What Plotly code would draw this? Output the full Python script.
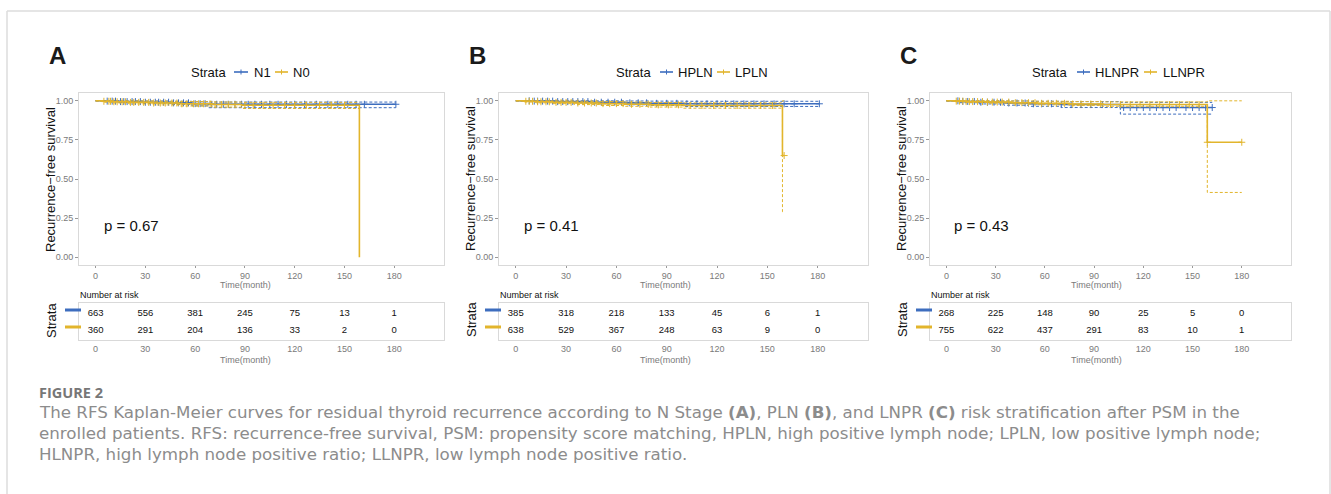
import numpy as np
import plotly.graph_objects as go

W, H = 1331, 494
BLUE = "#3D6DBE"
YELLOW = "#E2B52C"
FONT = "Liberation Sans, Arial, sans-serif"

# ---------------- data ----------------
panel_letters = ["A", "B", "C"]
strata_names = [["N1", "N0"], ["HPLN", "LPLN"], ["HLNPR", "LLNPR"]]
p_values = ["p = 0.67", "p = 0.41", "p = 0.43"]
risk_times = [0, 30, 60, 90, 120, 150, 180]

# Panel A
a_blue_t = [0, 6, 14, 28, 45, 58, 68]
a_blue_s = [1.0, 0.998, 0.995, 0.991, 0.987, 0.982, 0.978]
a_blue_lo = [1.0, 0.994, 0.989, 0.983, 0.977, 0.968, 0.956]
a_blue_hi = [1.0, 1.0, 1.0, 0.999, 0.997, 0.995, 0.992]
a_blue_end = 181
a_blue_cens = [7, 10, 12, 15, 17, 19, 22, 24, 27, 30, 33, 36, 38, 41, 44, 47, 50, 53, 56, 60,
               63, 66, 70, 73, 77, 80, 84, 88, 92, 96, 100, 105, 110, 115, 120, 126, 133, 140,
               146, 152, 157, 162, 181]
a_yel_t = [0, 4, 10, 20, 35, 50, 70, 88, 159]
a_yel_s = [1.0, 0.997, 0.994, 0.99, 0.986, 0.981, 0.976, 0.972, 0.0]
a_yel_ci_t = [0, 4, 10, 20, 35, 50, 70, 88]
a_yel_lo = [1.0, 0.991, 0.986, 0.98, 0.974, 0.967, 0.96, 0.951]
a_yel_hi = [1.0, 1.0, 1.0, 0.999, 0.997, 0.995, 0.992, 0.99]
a_yel_end = 159
a_yel_cens = [5, 8, 9, 11, 13, 16, 18, 21, 23, 26, 29, 32, 35, 39, 42, 46, 49, 52, 55, 59, 62,
              65, 69, 72, 76, 80, 84, 90, 95, 101, 107, 114, 120, 127, 135, 142, 150]
a_risk_blue = [663, 556, 381, 245, 75, 13, 1]
a_risk_yel = [360, 291, 204, 136, 33, 2, 0]

# Panel B
b_blue_t = [0, 10, 25, 45, 65, 80, 100]
b_blue_s = [1.0, 0.998, 0.995, 0.991, 0.987, 0.984, 0.981]
b_blue_lo = [1.0, 0.994, 0.989, 0.982, 0.975, 0.97, 0.964]
b_blue_hi = [1.0, 1.0, 1.0, 1.0, 0.999, 0.998, 0.997]
b_blue_end = 181
b_blue_cens = [8, 11, 13, 16, 19, 22, 25, 28, 31, 34, 37, 40, 43, 47, 51, 55, 59, 63, 68, 73,
               78, 84, 90, 96, 102, 108, 114, 120, 125, 130, 136, 142, 148, 154, 160, 166, 181]
b_yel_t = [0, 5, 12, 22, 35, 50, 65, 80, 100, 159]
b_yel_s = [1.0, 0.997, 0.994, 0.99, 0.986, 0.982, 0.978, 0.974, 0.97, 0.65]
b_yel_lo = [1.0, 0.992, 0.987, 0.982, 0.976, 0.97, 0.965, 0.96, 0.953, 0.29]
b_yel_hi = [1.0, 1.0, 1.0, 0.999, 0.997, 0.995, 0.992, 0.989, 0.987, 1.0]
b_yel_end = 160
b_yel_cens = [6, 8, 10, 13, 15, 18, 20, 24, 27, 30, 33, 37, 41, 45, 48, 52, 56, 60, 64, 69,
              74, 79, 85, 91, 97, 104, 111, 118, 125, 132, 139, 146, 153, 160]
b_risk_blue = [385, 318, 218, 133, 45, 6, 1]
b_risk_yel = [638, 529, 367, 248, 63, 9, 0]

# Panel C
c_blue_t = [0, 8, 20, 35, 50, 70, 106]
c_blue_s = [1.0, 0.996, 0.991, 0.986, 0.981, 0.976, 0.957]
c_blue_lo = [1.0, 0.988, 0.98, 0.972, 0.965, 0.957, 0.915]
c_blue_hi = [1.0, 1.0, 1.0, 0.999, 0.997, 0.995, 0.99]
c_blue_end = 162
c_blue_cens = [7, 10, 13, 17, 21, 25, 29, 33, 38, 43, 48, 53, 58, 64, 70, 76, 82, 88, 95, 108,
               112, 116, 120, 124, 128, 132, 136, 140, 146, 150, 154, 158, 162]
c_yel_t = [0, 5, 12, 25, 40, 55, 75, 95, 159]
c_yel_s = [1.0, 0.998, 0.995, 0.992, 0.988, 0.984, 0.98, 0.976, 0.735]
c_yel_lo = [1.0, 0.994, 0.99, 0.985, 0.98, 0.975, 0.97, 0.965, 0.414]
c_yel_hi = [1.0, 1.0, 1.0, 1.0, 0.999, 0.997, 0.995, 0.993, 1.0]
c_yel_end = 180
c_yel_cens = [6, 8, 10, 12, 14, 16, 19, 22, 25, 28, 31, 34, 38, 42, 46, 50, 54, 58, 62, 67,
              72, 77, 82, 88, 94, 100, 106, 112, 118, 124, 130, 136, 142, 148, 154, 159, 180]
c_risk_blue = [268, 225, 148, 90, 25, 5, 0]
c_risk_yel = [755, 622, 437, 291, 83, 10, 1]

panels = [
    dict(blue=(a_blue_t, a_blue_s, a_blue_t, a_blue_lo, a_blue_hi, a_blue_end, a_blue_cens),
         yel=(a_yel_t, a_yel_s, a_yel_ci_t, a_yel_lo, a_yel_hi, a_yel_end, a_yel_cens),
         risk=(a_risk_blue, a_risk_yel)),
    dict(blue=(b_blue_t, b_blue_s, b_blue_t, b_blue_lo, b_blue_hi, b_blue_end, b_blue_cens),
         yel=(b_yel_t, b_yel_s, b_yel_t, b_yel_lo, b_yel_hi, b_yel_end, b_yel_cens),
         risk=(b_risk_blue, b_risk_yel)),
    dict(blue=(c_blue_t, c_blue_s, c_blue_t, c_blue_lo, c_blue_hi, c_blue_end, c_blue_cens),
         yel=(c_yel_t, c_yel_s, c_yel_t, c_yel_lo, c_yel_hi, c_yel_end, c_yel_cens),
         risk=(c_risk_blue, c_risk_yel)),
]

caption_title = "FIGURE 2"
caption_lines = [
    "The RFS Kaplan-Meier curves for residual thyroid recurrence according to N Stage <b>(A)</b>, PLN <b>(B)</b>, and LNPR <b>(C)</b> risk stratification after PSM in the",
    "enrolled patients. RFS: recurrence-free survival, PSM: propensity score matching, HPLN, high positive lymph node; LPLN, low positive lymph node;",
    "HLNPR, high lymph node positive ratio; LLNPR, low lymph node positive ratio.",
]

# ---------------- layout geometry (pixels) ----------------
box_x = [(79, 444), (499, 868), (930, 1291)]
main_y = (93, 265)
tab_y = (303, 340)
legend_pos = [  # strata text start, (glyph x0,x1,text start) x2
    (189, [(234, 248, 252), (275, 288, 291)]),
    (614, [(660, 673, 676), (717, 730, 733)]),
    (1030, [(1077, 1090, 1093), (1144, 1157, 1161)]),
]


def px(x):
    return x / W


def py(y):
    return 1 - y / H


def step_xy(t, v, end):
    return list(t) + [end], list(v) + [v[-1]]


def note(x, y, text, size, color="#111", anchor="left", angle=0, family=FONT):
    return dict(x=px(x), y=py(y), xref="paper", yref="paper", text=text, showarrow=False,
                xanchor=anchor, yanchor="middle", textangle=angle,
                font=dict(size=size, color=color, family=family))


fig = go.Figure()
annotations = []
shapes = []
layout = {}

for i, pan in enumerate(panels):
    mx, tx = 2 * i + 1, 2 * i + 2
    xa_m, ya_m = f"x{mx}", f"y{mx}"
    xa_t, ya_t = f"x{tx}", f"y{tx}"
    L, R = box_x[i]
    axis_common = dict(range=[-10, 210], tickvals=risk_times, showline=True, mirror=True,
                       linecolor="#d9d9d9", linewidth=1, showgrid=False, zeroline=False,
                       tickfont=dict(size=9, color="#7a7a7a", family=FONT))
    layout[f"xaxis{mx}"] = dict(domain=[px(L), px(R)], anchor=ya_m, ticks="outside",
                                ticklen=2, tickcolor="#999", **axis_common)
    layout[f"yaxis{mx}"] = dict(domain=[py(main_y[1]), py(main_y[0])], anchor=xa_m,
                                range=[-0.05, 1.05], tickvals=[0, 0.25, 0.5, 0.75, 1.0],
                                ticktext=["0.00", "0.25", "0.50", "0.75", "1.00"],
                                ticks="outside", ticklen=3, tickcolor="#999",
                                showline=True, mirror=True, linecolor="#d9d9d9",
                                showgrid=False, zeroline=False,
                                tickfont=dict(size=9, color="#7a7a7a", family=FONT))
    layout[f"xaxis{tx}"] = dict(domain=[px(L), px(R)], anchor=ya_t, ticks="", **axis_common)
    layout[f"yaxis{tx}"] = dict(domain=[py(tab_y[1]), py(tab_y[0])], anchor=xa_t,
                                range=[-0.55, 1.6], showticklabels=False, ticks="",
                                showline=True, mirror=True, linecolor="#d9d9d9",
                                showgrid=False, zeroline=False)

    for key, col in (("blue", BLUE), ("yel", YELLOW)):
        t, s, ct, lo, hi, end, cens = pan[key]
        for ci in (lo, hi):
            x, y = step_xy(ct, ci, end)
            fig.add_trace(go.Scatter(x=x, y=y, mode="lines",
                                     line=dict(color=col, width=1, dash="3px,2px", shape="hv"),
                                     xaxis=xa_m, yaxis=ya_m, showlegend=False, hoverinfo="skip"))
        x, y = step_xy(t, s, end)
        fig.add_trace(go.Scatter(x=x, y=y, mode="lines", line=dict(color=col, width=1.6, shape="hv"),
                                 xaxis=xa_m, yaxis=ya_m, showlegend=False, hoverinfo="skip"))
        idx = np.searchsorted(np.array(t), np.array(cens), side="right") - 1
        cy = [s[j] for j in idx]
        fig.add_trace(go.Scatter(x=cens, y=cy, mode="markers",
                                 marker=dict(symbol="cross-thin", size=5, line=dict(color=col, width=1)),
                                 xaxis=xa_m, yaxis=ya_m, showlegend=False, hoverinfo="skip"))

    rb, ry = pan["risk"]
    for row, vals in ((1, rb), (0, ry)):
        fig.add_trace(go.Scatter(x=risk_times, y=[row] * 7, mode="text", text=[str(v) for v in vals],
                                 textfont=dict(size=9.5, color="#111", family=FONT),
                                 xaxis=xa_t, yaxis=ya_t, showlegend=False, hoverinfo="skip"))

    x0 = L + 10 / 220 * (R - L)
    annotations += [
        note(L - 22, 55, f"<b>{panel_letters[i]}</b>", 24, "#1a1a1a", "center"),
        note(L - 29, 179, "Recurrence\u2212free survival", 13, anchor="center", angle=-90),
        note(x0 + 6, 225, p_values[i], 15),
        note(x0 + 150, 285, "Time(month)", 9, "#7a7a7a", "center"),
        note(x0 + 150, 360, "Time(month)", 9, "#7a7a7a", "center"),
        note(L - 1, 295, "Number at risk", 9),
        note(L - 28, 320, "Strata", 13, anchor="center", angle=-90),
    ]
    for yy, col in ((310, BLUE), (327, YELLOW)):
        shapes.append(dict(type="line", xref="paper", yref="paper", x0=px(L - 14), x1=px(L + 2),
                           y0=py(yy), y1=py(yy), line=dict(color=col, width=3)))
    sx, items = legend_pos[i]
    annotations.append(note(sx, 72, "Strata", 13))
    for (g0, g1, ts), col, name in zip(items, (BLUE, YELLOW), strata_names[i]):
        shapes.append(dict(type="line", xref="paper", yref="paper", x0=px(g0), x1=px(g1),
                           y0=py(72), y1=py(72), line=dict(color=col, width=1.6)))
        gm = (g0 + g1) / 2
        shapes.append(dict(type="line", xref="paper", yref="paper", x0=px(gm), x1=px(gm),
                           y0=py(69.5), y1=py(74.5), line=dict(color=col, width=1)))
        annotations.append(note(ts, 72, name, 13))

# caption
CAP_FONT = "DejaVu Sans, Open Sans, sans-serif"
annotations.append(note(37, 392, f"<b>{caption_title}</b>", 14.5, "#777", family="Open Sans, sans-serif"))
for k, line in enumerate(caption_lines):
    annotations.append(note(37, 412 + 21 * k, line, 16.7, "#8c8c8c", family=CAP_FONT))

# outer frame
frame = dict(color="#dcdcdc", width=1.5)
shapes += [
    dict(type="line", xref="paper", yref="paper", x0=px(7), x1=px(1330), y0=py(11), y1=py(11), line=frame),
    dict(type="line", xref="paper", yref="paper", x0=px(7), x1=px(7), y0=py(11), y1=0, line=frame),
    dict(type="line", xref="paper", yref="paper", x0=px(1330), x1=px(1330), y0=py(11), y1=0, line=frame),
]

fig.update_layout(width=W, height=H, autosize=False, margin=dict(l=0, r=0, t=0, b=0),
                  paper_bgcolor="white", plot_bgcolor="white", showlegend=False,
                  annotations=annotations, shapes=shapes, **layout)
fig.write_html("out.html", post_script="document.body.style.margin='0px';",
               config={"displayModeBar": False})
